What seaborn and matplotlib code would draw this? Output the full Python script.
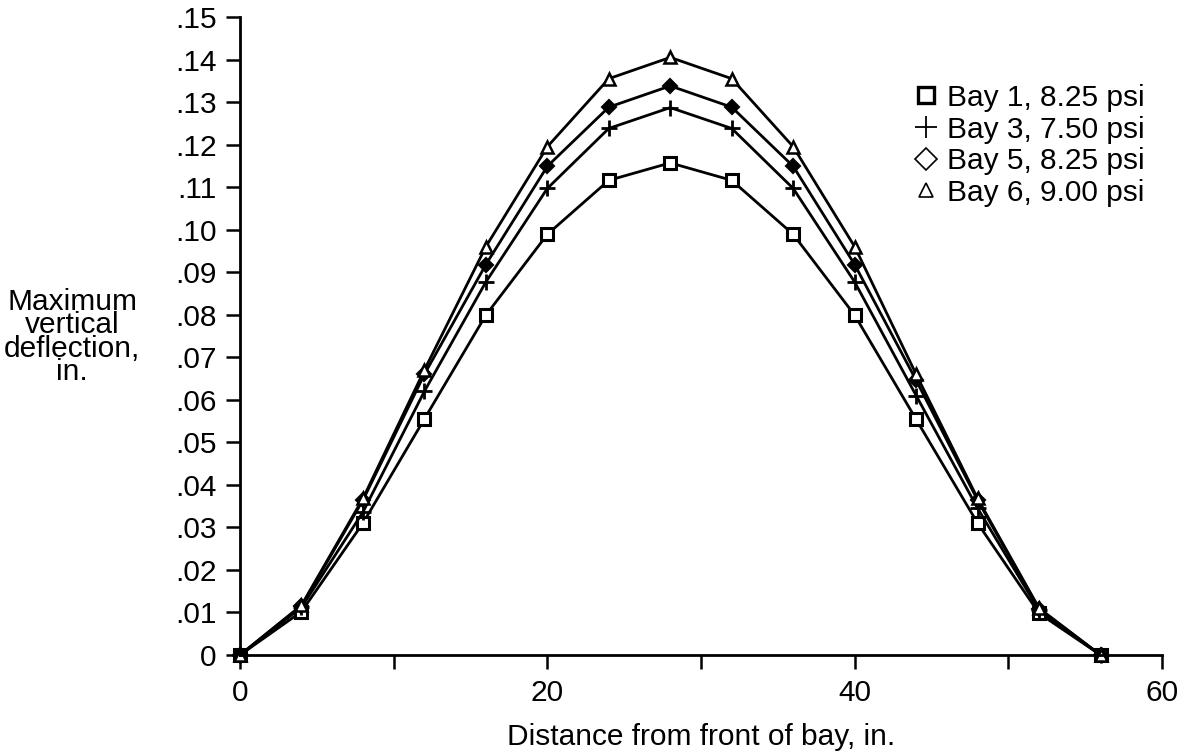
import numpy as np
import pandas as pd
import matplotlib
matplotlib.use("Agg")
import matplotlib.pyplot as plt
from matplotlib.lines import Line2D
import seaborn as sns

# Datos
distancia = [0, 4, 8, 12, 16, 20, 24, 28, 32, 36, 40, 44, 48, 52, 56]
bay1 = [0, .0102, .0310, .0555, .0799, .0989, .1116, .1157, .1116, .0989, .0799, .0554, .0310, .0098, 0]
bay3 = [0, .0112, .0336, .0620, .0877, .1097, .1238, .1287, .1238, .1097, .0877, .0610, .0345, .0105, 0]
bay5 = [0, .0115, .0364, .0660, .0918, .1149, .1288, .1338, .1288, .1149, .0918, .0646, .0364, .0108, 0]
bay6 = [0, .0117, .0368, .0670, .0960, .1195, .1355, .1405, .1355, .1195, .0960, .0660, .0368, .0110, 0]

etiquetas = ["Bay 1, 8.25 psi", "Bay 3, 7.50 psi", "Bay 5, 8.25 psi", "Bay 6, 9.00 psi"]
y_ticks = [i / 100 for i in range(16)]
y_labels = ["0"] + ["." + f"{i:02d}" for i in range(1, 16)]

# Tema seaborn
sns.set_theme(style="white")
plt.rcParams["font.family"] = ["Liberation Sans", "DejaVu Sans"]
plt.rcParams["text.color"] = "black"
FS = 21.5

df = pd.DataFrame({"x": distancia, "b1": bay1, "b3": bay3, "b5": bay5, "b6": bay6})

fig = plt.figure(figsize=(11.93, 7.51), dpi=100)
ax = fig.add_axes([240 / 1193, 1 - 655 / 751, 922 / 1193, 638 / 751])

# estilo de cada serie: marcador, relleno, tamano
estilos = [
    ("b1", "s", "white", 9, 2.2),
    ("b3", "+", "black", 11, 2.0),
    ("b5", "D", "black", 7, 1.5),
    ("b6", "^", "white", 9, 1.8),
]
for col, m, fc, ms, mew in estilos:
    sns.lineplot(data=df, x="x", y=col, ax=ax, color="black", linewidth=2.0,
                 marker=m, markersize=ms, markerfacecolor=fc,
                 markeredgecolor="black", markeredgewidth=mew, clip_on=False)

ax.set_xlim(0, 60)
ax.set_ylim(0, 0.15)
ax.set_xticks([0, 10, 20, 30, 40, 50, 60])
ax.set_xticklabels(["0", "", "20", "", "40", "", "60"])
ax.set_yticks(y_ticks)
ax.set_yticklabels(y_labels)

for s in ["top", "right"]:
    ax.spines[s].set_visible(False)
for s in ["left", "bottom"]:
    ax.spines[s].set_color("black")
    ax.spines[s].set_linewidth(2.0)

ax.tick_params(axis="both", which="major", direction="out", length=10, width=1.8,
               color="black", labelsize=FS, labelcolor="black", pad=7,
               left=True, bottom=True)

ax.set_xlabel("Distance from front of bay, in.", fontsize=FS, labelpad=12, color="black")
ax.set_ylabel("")
fig.text(72 / 1193, 1 - 337 / 751, "Maximum\nvertical\ndeflection,\nin.",
         ha="center", va="center", fontsize=FS, linespacing=0.8, color="black")

# Leyenda con marcadores solamente
handles = [
    Line2D([], [], linestyle="none", marker="s", markersize=11, mfc="white", mec="black", mew=2.4),
    Line2D([], [], linestyle="none", marker="+", markersize=16, mec="black", mew=1.3),
    Line2D([], [], linestyle="none", marker="D", markersize=11, mfc="white", mec="black", mew=1.2),
    Line2D([], [], linestyle="none", marker="^", markersize=10, mfc="white", mec="black", mew=1.2),
]
leg = ax.legend(handles, etiquetas, loc="upper left", bbox_to_anchor=(899 / 1193, 1 - 69 / 751),
                bbox_transform=fig.transFigure, frameon=False, fontsize=FS,
                handlelength=0.8, handletextpad=0.3, labelspacing=0.12, borderpad=0)
for t in leg.get_texts():
    t.set_color("black")

fig.savefig("out.png", dpi=100, facecolor="white")
